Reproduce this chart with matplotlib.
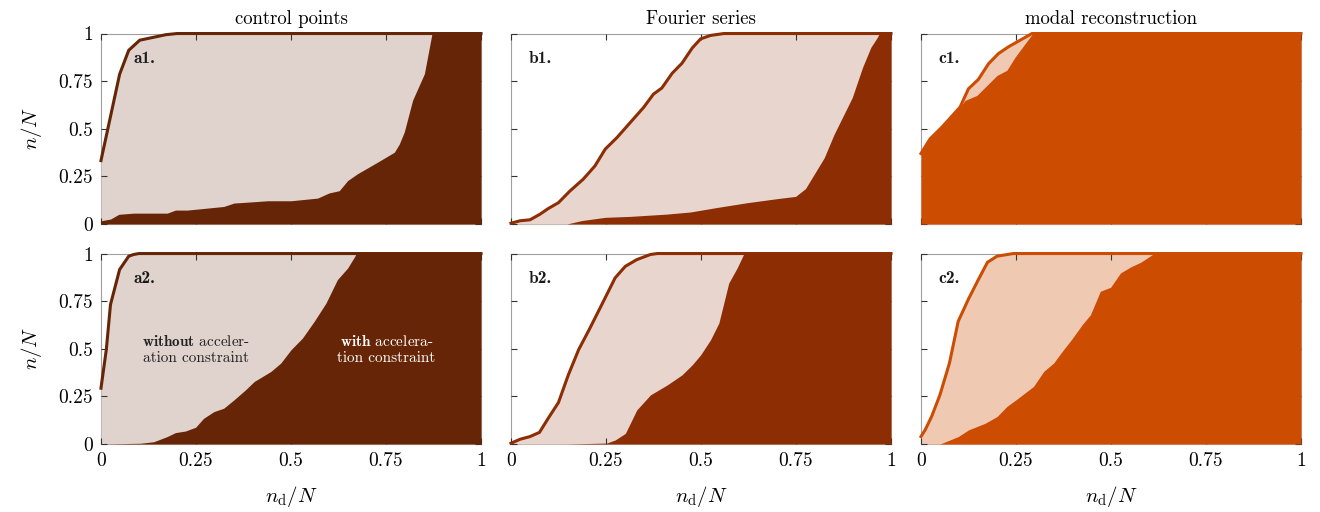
import numpy as np
import matplotlib
matplotlib.use("Agg")
import matplotlib.pyplot as plt

plt.rcParams["font.family"] = "cmr10"
plt.rcParams["mathtext.fontset"] = "cm"
plt.rcParams["axes.unicode_minus"] = False

# colores de cada metodo
dark_cols = ["#662506", "#8c2d04", "#cc4c02"]
light_alpha = [0.2, 0.2, 0.3]

titles = ["control points", "Fourier series", "modal reconstruction"]
labels = [["a1.", "b1.", "c1."], ["a2.", "b2.", "c2."]]
ticks = [0, 0.25, 0.5, 0.75, 1]
tick_labels = ["0", "0.25", "0.5", "0.75", "1"]

# a1
a1_xu = [0, 0.049, 0.073, 0.102, 0.171, 0.2, 1]
a1_yu = [0.333, 0.786, 0.912, 0.965, 0.994, 1, 1]
a1_xl = [0, 0.025, 0.047, 0.086, 0.174, 0.196, 0.227, 0.323, 0.35, 0.403, 0.438, 0.5,
         0.57, 0.6, 0.627, 0.649, 0.675, 0.728, 0.772, 0.785, 0.798, 0.82, 0.851, 0.871, 1]
a1_yl = [0.017, 0.026, 0.051, 0.057, 0.057, 0.073, 0.073, 0.092, 0.110, 0.117, 0.122, 0.122,
         0.136, 0.163, 0.175, 0.228, 0.264, 0.325, 0.377, 0.42, 0.483, 0.65, 0.789, 1.0, 1.0]

# b1
b1_xu = [0, 0.024, 0.05, 0.076, 0.098, 0.125, 0.155, 0.19, 0.221, 0.248, 0.279, 0.314, 0.349,
         0.375, 0.397, 0.424, 0.45, 0.477, 0.499, 0.525, 0.56, 1]
b1_yu = [0.004, 0.017, 0.022, 0.051, 0.081, 0.112, 0.173, 0.235, 0.305, 0.393, 0.454, 0.533, 0.612,
         0.682, 0.714, 0.791, 0.844, 0.924, 0.972, 0.99, 1.0, 1.0]
b1_xl = [0, 0.147, 0.186, 0.248, 0.314, 0.41, 0.472, 0.543, 0.622, 0.7, 0.749, 0.775, 0.824,
         0.85, 0.898, 0.925, 0.947, 0.964, 0.969, 1]
b1_yl = [0, 0, 0.018, 0.035, 0.04, 0.052, 0.063, 0.087, 0.112, 0.133, 0.145, 0.186, 0.347,
         0.47, 0.664, 0.822, 0.928, 0.98, 1.0, 1.0]

# c1
c1_xu = [0, 0.024, 0.055, 0.103, 0.125, 0.151, 0.178, 0.204, 0.23, 0.261, 0.292, 1]
c1_yu = [0.37, 0.447, 0.508, 0.614, 0.71, 0.759, 0.842, 0.895, 0.93, 0.965, 1.0, 1.0]
c1_xl = [0, 0.024, 0.055, 0.103, 0.116, 0.147, 0.2, 0.226, 0.248, 0.274, 0.294, 1]
c1_yl = [0.37, 0.447, 0.508, 0.614, 0.649, 0.675, 0.78, 0.807, 0.877, 0.947, 1.0, 1.0]

# a2
a2_xu = [0, 0.014, 0.025, 0.049, 0.073, 0.086, 0.1, 1]
a2_yu = [0.293, 0.495, 0.732, 0.916, 0.986, 0.995, 1, 1]
a2_xl = [0, 0.104, 0.139, 0.174, 0.196, 0.222, 0.249, 0.27, 0.297, 0.323, 0.35, 0.38, 0.403,
         0.447, 0.473, 0.5, 0.53, 0.561, 0.592, 0.622, 0.649, 0.668, 0.671, 1]
a2_yl = [0, 0.004, 0.012, 0.039, 0.06, 0.068, 0.088, 0.135, 0.17, 0.188, 0.232, 0.284, 0.328,
         0.381, 0.425, 0.495, 0.556, 0.644, 0.74, 0.863, 0.924, 0.986, 1.0, 1.0]

# b2
b2_xu = [0, 0.024, 0.05, 0.075, 0.098, 0.125, 0.151, 0.178, 0.208, 0.239, 0.274, 0.301, 0.331,
         0.367, 0.385, 1]
b2_yu = [0.004, 0.025, 0.039, 0.061, 0.135, 0.218, 0.363, 0.495, 0.609, 0.732, 0.872, 0.933, 0.968,
         0.995, 1.0, 1.0]
b2_xl = [0, 0.147, 0.252, 0.274, 0.301, 0.331, 0.367, 0.411, 0.45, 0.477, 0.499, 0.525, 0.547,
         0.56, 0.573, 0.595, 0.613, 1]
b2_yl = [0, 0, 0.005, 0.021, 0.056, 0.179, 0.258, 0.31, 0.363, 0.416, 0.468, 0.547, 0.635,
         0.74, 0.845, 0.924, 1.0, 1.0]

# c2
c2_xu = [0, 0.011, 0.028, 0.05, 0.075, 0.098, 0.125, 0.151, 0.175, 0.2, 0.243, 1]
c2_yu = [0.039, 0.074, 0.144, 0.258, 0.425, 0.644, 0.761, 0.863, 0.954, 0.986, 1.0, 1.0]
c2_xl = [0, 0.05, 0.098, 0.125, 0.169, 0.2, 0.226, 0.252, 0.296, 0.323, 0.349, 0.375, 0.397,
         0.424, 0.446, 0.472, 0.499, 0.525, 0.552, 0.578, 0.613, 1]
c2_yl = [0, 0, 0.039, 0.074, 0.109, 0.144, 0.197, 0.235, 0.302, 0.381, 0.425, 0.495, 0.551,
         0.626, 0.679, 0.802, 0.823, 0.898, 0.93, 0.954, 1.0, 1.0]

data = [[(a1_xu, a1_yu, a1_xl, a1_yl), (b1_xu, b1_yu, b1_xl, b1_yl), (c1_xu, c1_yu, c1_xl, c1_yl)],
        [(a2_xu, a2_yu, a2_xl, a2_yl), (b2_xu, b2_yu, b2_xl, b2_yl), (c2_xu, c2_yu, c2_xl, c2_yl)]]


def mezcla(col, alpha):
  rgb = np.array(matplotlib.colors.to_rgb(col))
  return tuple(1 - alpha * (1 - rgb))


fig = plt.figure(figsize=(13.2, 5.12), dpi=100)
lefts = [0.0765, 0.3871, 0.6977]
bottoms = [0.5625, 0.1328]
w = 0.2879
h = 0.372

for i in range(2):
  for j in range(3):
    ax = fig.add_axes([lefts[j], bottoms[i], w, h])
    xu, yu, xl, yl = data[i][j]
    dark = dark_cols[j]
    light = mezcla(dark, light_alpha[j])
    ax.fill_between(xu, 0, yu, color=light, lw=0, zorder=1)
    ax.fill_between(xl, 0, yl, color=dark, lw=0, zorder=2)
    ax.plot(xu, yu, color=dark, lw=2.2, zorder=3, solid_joinstyle="miter", clip_on=False)
    ax.set_xlim(0, 1)
    ax.set_ylim(0, 1)
    ax.set_xticks(ticks)
    ax.set_yticks(ticks)
    ax.tick_params(direction="in", length=4, width=0.8, color="#333333", top=True, right=True,
                   labelsize=14, pad=6)
    for s in ax.spines.values():
      s.set_color("#a0a0a0")
      s.set_linewidth(0.8)
      s.set_zorder(0.5)
    if j == 0:
      ax.set_yticklabels(tick_labels)
      ax.set_ylabel(r"$n/N$", fontsize=15, labelpad=10)
    else:
      ax.set_yticklabels([])
    if i == 1:
      ax.set_xticklabels(tick_labels)
      ax.set_xlabel(r"$n_\mathrm{d}/N$", fontsize=15, labelpad=10)
    else:
      ax.set_xticklabels([])
      ax.set_title(titles[j], fontsize=13.5, pad=7)
    lx = 0.085 if j == 0 else 0.047
    ax.text(lx, 0.87, labels[i][j], fontfamily="cmb10", fontsize=12.5, ha="left", va="center",
            color="#1a1a1a", zorder=5)
    if i == 1 and j == 0:
      ax.text(0.251, 0.495, "$\\mathbf{without}$ acceler-\nation constraint", fontsize=11,
              ha="center", va="center", multialignment="center", color="#222222",
              linespacing=1.2, zorder=5)
      ax.text(0.751, 0.495, "$\\mathbf{with}$ accelera-\ntion constraint", fontsize=11,
              ha="center", va="center", multialignment="center", color="white",
              linespacing=1.2, zorder=5)

fig.savefig("out.png", dpi=100)
